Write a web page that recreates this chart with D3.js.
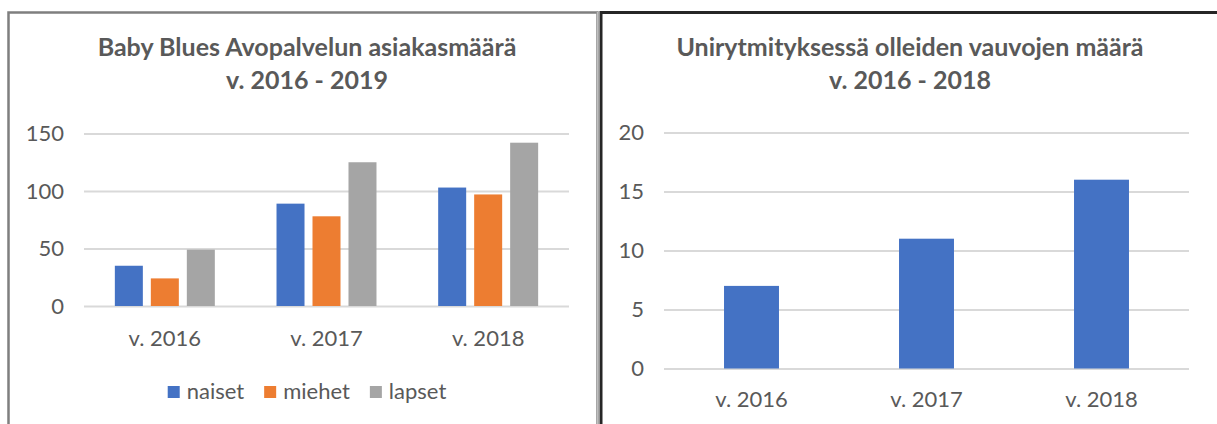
<!DOCTYPE html>
<html lang="fi">
<head>
    <meta charset="UTF-8">
    <title>Baby Blues</title>
    <style>
        body { margin: 0; background: #fff; }
        svg { display: block; font-family: 'Lato', 'Open Sans', sans-serif; }
        .title { font-size: 25px; font-weight: bold; fill: #595959; text-anchor: middle; }
        .tick text { font-family: 'Lato', 'Open Sans', sans-serif; font-size: 22px; fill: #595959; }
        .tick line { stroke: #d9d9d9; stroke-width: 2; }
        .legend-text { font-size: 22px; fill: #595959; }
    </style>
</head>
<body>
    <svg id="chart" width="1217" height="424"></svg>

    <script src="https://d3js.org/d3.v7.min.js"></script>
    <script>
        // data
        const years = ["v. 2016", "v. 2017", "v. 2018"];
        const seriesNames = ["naiset", "miehet", "lapset"];
        const naiset = [35, 89, 103];
        const miehet = [24, 78, 97];
        const lapset = [49, 125, 142];
        const leftTicks = [0, 50, 100, 150];

        const vauvat = [7, 11, 16];
        const rightTicks = [0, 5, 10, 15, 20];

        const colors = ["#4472C4", "#ED7D31", "#A5A5A5"];

        const svg = d3.select("#chart");

        // chart frames (screenshot borders)
        svg.append("rect")
            .attr("x", 8.5).attr("y", 12.5)
            .attr("width", 589).attr("height", 430)
            .attr("fill", "none").attr("stroke", "#7f7f7f").attr("stroke-width", 2.5);
        svg.append("line")
            .attr("x1", 597.5).attr("x2", 597.5).attr("y1", 12).attr("y2", 424)
            .attr("stroke", "#bfbfbf").attr("stroke-width", 1.5);
        svg.append("rect")
            .attr("x", 601).attr("y", 12.5)
            .attr("width", 640).attr("height", 430)
            .attr("fill", "none").attr("stroke", "#262626").attr("stroke-width", 3);

        // ---------- left chart ----------
        const left = svg.append("g");

        left.append("text").attr("class", "title")
            .attr("x", 307).attr("y", 56)
            .text("Baby Blues Avopalvelun asiakasmäärä");
        left.append("text").attr("class", "title")
            .attr("x", 307).attr("y", 89)
            .text("v. 2016 - 2019");

        const x0 = d3.scaleBand().domain(years).range([84, 569]).padding(0);
        const x1 = d3.scaleBand().domain(seriesNames)
            .range([0, x0.bandwidth()])
            .paddingInner(0.222).paddingOuter(0.857);
        const yL = d3.scaleLinear().domain([0, 150]).range([306, 133.5]);

        const yAxisL = left.append("g")
            .attr("transform", "translate(84,0)")
            .call(d3.axisLeft(yL).tickValues(leftTicks).tickSize(-(569 - 84)).tickPadding(20));
        yAxisL.select(".domain").remove();

        const groups = years.map((y, i) => ({
            year: y,
            values: [naiset[i], miehet[i], lapset[i]]
        }));

        left.selectAll(".grp")
            .data(groups)
            .enter().append("g")
            .attr("class", "grp")
            .attr("transform", d => "translate(" + x0(d.year) + ",0)")
            .selectAll("rect")
            .data(d => d.values.map((v, j) => ({ name: seriesNames[j], value: v, c: colors[j] })))
            .enter().append("rect")
            .attr("x", d => x1(d.name))
            .attr("y", d => yL(d.value))
            .attr("width", x1.bandwidth())
            .attr("height", d => yL(0) - yL(d.value))
            .attr("fill", d => d.c);

        const xAxisL = left.append("g")
            .attr("transform", "translate(0,306)")
            .call(d3.axisBottom(x0).tickSize(0).tickPadding(24));
        xAxisL.select(".domain").remove();

        // legend
        const legend = left.append("g");
        let lx = 0;
        seriesNames.forEach((name, i) => {
            const g = legend.append("g");
            g.append("rect").attr("x", 0).attr("y", -13).attr("width", 12).attr("height", 12)
                .attr("fill", colors[i]);
            const t = g.append("text").attr("class", "legend-text").attr("x", 19).text(name);
            const w = 19 + t.node().getComputedTextLength();
            g.attr("transform", "translate(" + lx + ",0)");
            lx += w + 20;
        });
        const legendWidth = lx - 20;
        legend.attr("transform", "translate(" + (307 - legendWidth / 2) + ",399)");

        // ---------- right chart ----------
        const right = svg.append("g");

        right.append("text").attr("class", "title")
            .attr("x", 910).attr("y", 56)
            .text("Unirytmityksessä olleiden vauvojen määrä");
        right.append("text").attr("class", "title")
            .attr("x", 910).attr("y", 89)
            .text("v. 2016 - 2018");

        const xR = d3.scaleBand().domain(years).range([664, 1189])
            .paddingInner(0.686).paddingOuter(0.343);
        const yR = d3.scaleLinear().domain([0, 20]).range([368.5, 132.5]);

        const yAxisR = right.append("g")
            .attr("transform", "translate(664,0)")
            .call(d3.axisLeft(yR).tickValues(rightTicks).tickSize(-(1189 - 664)).tickPadding(20));
        yAxisR.select(".domain").remove();

        right.selectAll(".bar")
            .data(vauvat)
            .enter().append("rect")
            .attr("class", "bar")
            .attr("x", (d, i) => xR(years[i]))
            .attr("y", d => yR(d))
            .attr("width", xR.bandwidth())
            .attr("height", d => yR(0) - yR(d))
            .attr("fill", colors[0]);

        const xAxisR = right.append("g")
            .attr("transform", "translate(0,368.5)")
            .call(d3.axisBottom(xR).tickSize(0).tickPadding(23));
        xAxisR.select(".domain").remove();
    </script>
</body>
</html>
